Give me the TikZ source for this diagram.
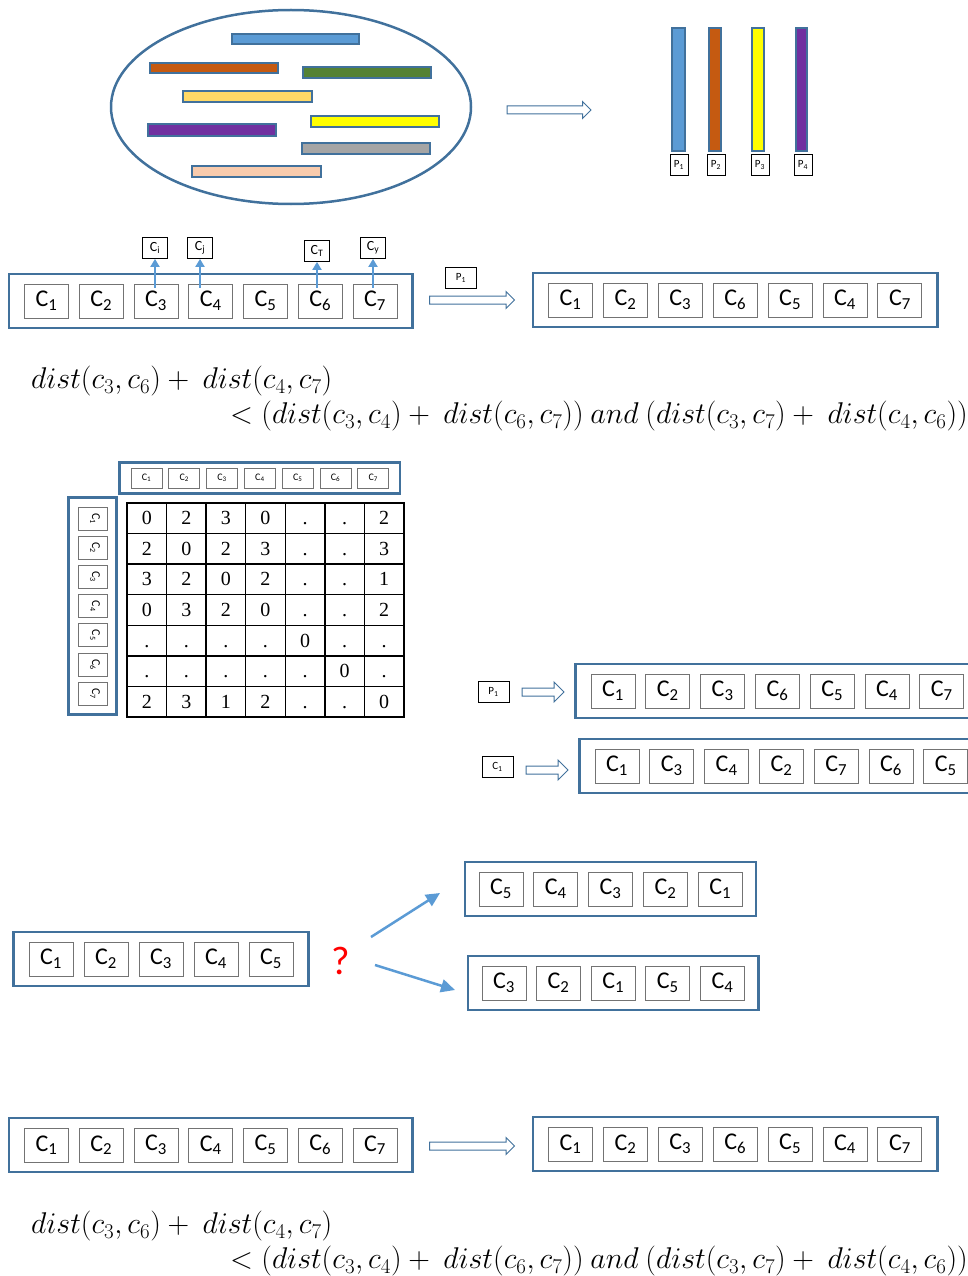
\documentclass[tikz,border=0pt]{standalone}
\usepackage{fix-cm}
\usepackage{fontspec}
\setmainfont{Carlito}
\newfontfamily\timesfont{Liberation Serif}
\usetikzlibrary{arrows.meta,shapes.arrows,fit}

\definecolor{edgeblue}{HTML}{41719C}
\definecolor{arrowblue}{HTML}{5B9BD5}
\definecolor{barblue}{HTML}{5B9BD5}
\definecolor{barorange}{HTML}{C55A11}
\definecolor{bargreen}{HTML}{548235}
\definecolor{barsand}{HTML}{FFD966}
\definecolor{baryellow}{HTML}{FFFF00}
\definecolor{barpurple}{HTML}{7030A0}
\definecolor{bargray}{HTML}{A5A5A5}
\definecolor{barpeach}{HTML}{F8CBAD}

\newcommand{\cl}[1]{C\textsubscript{#1}}

\tikzset{
  grp/.style={draw=edgeblue, line width=2.5pt, inner xsep=15pt, inner ysep=9.5pt},
  cbox/.style={draw=black!55, line width=1pt, minimum width=44pt, minimum height=34pt,
    inner sep=0pt, font=\fontsize{24}{24}\selectfont},
  tag/.style={draw, line width=.8pt, minimum width=25pt, minimum height=21pt,
    inner sep=0pt, font=\fontsize{14}{14}\selectfont},
  hbox/.style={draw=black!55, line width=.8pt, minimum width=31pt, minimum height=20pt,
    inner sep=0pt, font=\fontsize{10}{10}\selectfont},
  vbox/.style={draw=black!55, line width=.8pt, minimum width=29pt, minimum height=23pt,
    inner sep=0pt, font=\fontsize{12}{12}\selectfont},
  cell/.style={draw, line width=1.3pt, minimum width=39.6pt, minimum height=30.6pt,
    inner sep=0pt, text height=13pt, text depth=0pt, font=\timesfont\fontsize{20}{20}\selectfont},
  hollow/.style={single arrow, draw=edgeblue, line width=1pt, fill=white,
    inner xsep=0pt, inner ysep=3.5pt, single arrow head extend=4.5pt},
  upline/.style={draw=arrowblue, line width=2.5pt, -{Triangle[length=8pt,width=9pt]}},
  bluearrow/.style={draw=arrowblue, line width=2.5pt, -{Triangle[length=14pt,width=13pt]}},
  bar/.style={draw=edgeblue, line width=2pt},
  eq/.style={anchor=west, inner sep=0pt, font=\fontsize{30}{34}\selectfont}
}

\begin{document}
\begin{tikzpicture}[x=1pt,y=-1pt]
\useasboundingbox (0,0) rectangle (968,1276);
\clip (0,0) rectangle (968,1276);

% pool of reads
\draw[edgeblue, line width=2.5pt] (291,107) ellipse [x radius=180, y radius=97];
\draw[bar, fill=barblue]   (232,34) rectangle (359,44);
\draw[bar, fill=barorange] (150,63) rectangle (278,73);
\draw[bar, fill=bargreen]  (303,67) rectangle (431,78);
\draw[bar, fill=barsand]   (183,91) rectangle (312,102);
\draw[bar, fill=baryellow] (311,116) rectangle (439,127);
\draw[bar, fill=barpurple] (148,124) rectangle (276,136);
\draw[bar, fill=bargray]   (302,143) rectangle (430,154);
\draw[bar, fill=barpeach]  (192,166) rectangle (321,177);

\node[hollow, minimum height=84pt] (ar0) at (547,110) {};

% P1..P4
\draw[bar, fill=barblue]   (672,28) rectangle (685,151);
\draw[bar, fill=barorange] (709,28) rectangle (721,151);
\draw[bar, fill=baryellow] (752,28) rectangle (764,151);
\draw[bar, fill=barpurple] (796,28) rectangle (807,151);
\foreach \x [count=\i] in {679,716,760,803}
  \node[tag, minimum width=18pt, font=\fontsize{11}{11}\selectfont] (p\i) at (\x,165) {P\textsubscript{\i}};

% row before / after
\foreach \c [count=\i] in {1,...,7}
  \node[cbox] (a\i) at ({46.5+54.75*(\i-1)},301) {\cl{\c}};
\node[grp, fit=(a1)(a7)] (rowa) {};
\foreach \c [count=\i] in {1,2,3,6,5,4,7}
  \node[cbox] (b\i) at ({570.5+54.9*(\i-1)},300) {\cl{\c}};
\node[grp, fit=(b1)(b7)] (rowb) {};

\node[tag] (ci) at (155,248) {\cl{i}};
\node[tag] (cj) at (200,248) {\cl{j}};
\node[tag] (ct) at (317,251) {\cl{T}};
\node[tag] (cy) at (373,248) {\cl{y}};
\draw[upline, shorten <=-4pt] (ci |- a3.north) -- (ci.south);
\draw[upline, shorten <=-4pt] (cj |- a4.north) -- (cj.south);
\draw[upline, shorten <=-4pt] (ct |- a6.north) -- (ct.south);
\draw[upline, shorten <=-4pt] (cy |- a7.north) -- (cy.south);

\node[tag, minimum width=31pt, font=\fontsize{11}{11}\selectfont] (pa) at (461,278) {P\textsubscript{1}};
\node[hollow, minimum height=85pt] (ar1) at (470,300) {};

\node[eq] (f1) at (31,381) {$dist(c_3,c_6) +\ dist(c_4,c_7)$};
\node[eq] (f2) at (230,416) {$<\bigl(dist(c_3,c_4) +\ dist(c_6,c_7))\ and\ (dist(c_3,c_7) +\ dist(c_4,c_6)\bigr)$};

% distance matrix
\foreach \i in {1,...,7}
  \node[hbox] (h\i) at ({146.5+37.8*(\i-1)},478) {\cl{\i}};
\node[grp, fit=(h1)(h7), inner xsep=11pt, inner ysep=5pt] (head) {};
\foreach \i in {1,...,7}
  \node[vbox] (v\i) at (92.5,{518.5+29.2*(\i-1)}) {\hspace{5pt}\rotatebox{-90}{\cl{\i}}};
\node[grp, fit=(v1)(v7), inner xsep=9pt, inner ysep=9pt] (side) {};
\foreach \row [count=\r] in {{0,2,3,0,.,.,2},{2,0,2,3,.,.,3},{3,2,0,2,.,.,1},{0,3,2,0,.,.,2},
    {.,.,.,.,0,.,.},{.,.,.,.,.,0,.},{2,3,1,2,.,.,0}}
  \foreach \v [count=\c] in \row
    \node[cell] (m\r\c) at ({127+39.57*(\c-0.5)},{503+30.57*(\r-0.5)}) {\v};

% orders from P1 and from C1
\node[tag, minimum width=31pt, font=\fontsize{11}{11}\selectfont] (pb) at (493.5,692) {P\textsubscript{1}};
\node[hollow, minimum height=42pt, single arrow head extend=6pt] (ar2) at (541,692) {};
\foreach \c [count=\i] in {1,2,3,6,5,4,7}
  \node[cbox] (d\i) at ({613+54.8*(\i-1)},691) {\cl{\c}};
\node[grp, fit=(d1)(d7)] (rowd) {};

\node[tag, minimum width=31pt, font=\fontsize{11}{11}\selectfont] (cc) at (497.5,767) {\cl{1}};
\node[hollow, minimum height=42pt, single arrow head extend=6pt] (ar3) at (545,770) {};
\foreach \c [count=\i] in {1,3,4,2,7,6,5}
  \node[cbox] (e\i) at ({617+54.8*(\i-1)},766) {\cl{\c}};
\node[grp, fit=(e1)(e7)] (rowe) {};

% which direction?
\foreach \c [count=\i] in {1,...,5}
  \node[cbox] (g\i) at ({51+55*(\i-1)},959) {\cl{\c}};
\node[grp, fit=(g1)(g5)] (rowg) {};
\foreach \c [count=\i] in {5,4,3,2,1}
  \node[cbox] (k\i) at ({501+54.8*(\i-1)},889) {\cl{\c}};
\node[grp, fit=(k1)(k5), inner xsep=13.5pt] (rowk) {};
\foreach \c [count=\i] in {3,2,1,5,4}
  \node[cbox] (n\i) at ({504+54.6*(\i-1)},983) {\cl{\c}};
\node[grp, fit=(n1)(n5), inner xsep=13.5pt] (rown) {};

\node[text=red, font=\fontsize{40}{40}\selectfont] (qm) at (341,961) {?};
\coordinate (u0) at (371,937);
\coordinate (u1) at (440,893);
\coordinate (w0) at (375,965);
\coordinate (w1) at (455,990);
\draw[bluearrow] (u0) -- (u1);
\draw[bluearrow] (w0) -- (w1);

% bottom row before / after
\foreach \c [count=\i] in {1,...,7}
  \node[cbox] (r\i) at ({46.5+54.75*(\i-1)},1145) {\cl{\c}};
\node[grp, fit=(r1)(r7)] (rowr) {};
\foreach \c [count=\i] in {1,2,3,6,5,4,7}
  \node[cbox] (s\i) at ({570.5+54.9*(\i-1)},1144) {\cl{\c}};
\node[grp, fit=(s1)(s7)] (rows) {};
\node[hollow, minimum height=85pt] (ar4) at (470,1146) {};

\node[eq] (f3) at (31,1226) {$dist(c_3,c_6) +\ dist(c_4,c_7)$};
\node[eq] (f4) at (230,1261) {$<\bigl(dist(c_3,c_4) +\ dist(c_6,c_7))\ and\ (dist(c_3,c_7) +\ dist(c_4,c_6)\bigr)$};
\end{tikzpicture}
\end{document}
